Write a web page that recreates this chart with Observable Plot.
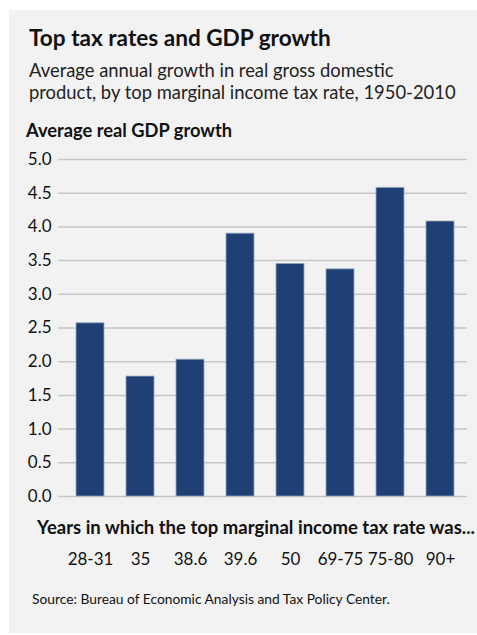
<!DOCTYPE html>
<html>
<head>
<meta charset="utf-8">
<script src="https://cdn.jsdelivr.net/npm/d3@7"></script>
<script src="https://cdn.jsdelivr.net/npm/@observablehq/plot@0.6"></script>
<style>
  html, body { margin: 0; padding: 0; background: #ffffff; }
  body { width: 477px; height: 635px; position: relative; overflow: hidden; font-family: Lato, "Open Sans", sans-serif; color: #111; }
  #panel { position: absolute; left: 9px; top: 10px; width: 468px; height: 623px; background: #f2f2f2; }
  .t { position: absolute; white-space: nowrap; line-height: 1; }
  #title { left: 29px; top: 27px; font-size: 22.6px; font-weight: 700; }
  #subtitle { left: 29px; top: 59px; font-size: 18.4px; line-height: 22px; color: #222; }
  #ylabel { left: 26px; top: 121px; font-size: 18.3px; font-weight: 700; }
  #xlabel { left: 37px; top: 518px; font-size: 18.5px; font-weight: 700; }
  #source { left: 32px; top: 592px; font-size: 13.8px; color: #111; }
  #chart { position: absolute; left: 0; top: 140px; }
</style>
</head>
<body>
<div id="panel"></div>
<div class="t" id="title">Top tax rates and GDP growth</div>
<div class="t" id="subtitle">Average annual growth in real gross domestic<br>product, by top marginal income tax rate, 1950-2010</div>
<div class="t" id="ylabel">Average real GDP growth</div>
<div class="t" id="xlabel">Years in which the top marginal income tax rate was...</div>
<div class="t" id="source">Source: Bureau of Economic Analysis and Tax Policy Center.</div>
<div id="chart"></div>
<script>
// Data
const rates = ["28-31", "35", "38.6", "39.6", "50", "69-75", "75-80", "90+"];
const growth = [2.57, 1.78, 2.03, 3.90, 3.45, 3.37, 4.58, 4.08];
const yTicks = [0, 0.5, 1, 1.5, 2, 2.5, 3, 3.5, 4, 4.5, 5];

const data = rates.map((r, i) => ({rate: r, growth: growth[i]}));

const plot = Plot.plot({
  width: 477,
  height: 440,
  marginTop: 19,
  marginBottom: 84,
  marginLeft: 58,
  marginRight: 10,
  style: {background: "transparent", fontFamily: "Lato, 'Open Sans', sans-serif", color: "#111", overflow: "visible"},
  x: {domain: rates, padding: 0.435, paddingOuter: 0.2255, insetLeft: 5},
  y: {domain: [0, 5]},
  marks: [
    Plot.gridY(yTicks, {stroke: "#c6c6c6", strokeOpacity: 1, strokeWidth: 1.5}),
    Plot.barY(data, {x: "rate", y: "growth", fill: "#1f4074", stroke: "#9aa8c0", strokeWidth: 0.8}),
    Plot.axisY(yTicks, {tickSize: 0, tickPadding: 7, fontSize: 17, tickFormat: d3.format(".1f"), label: null}),
    Plot.axisX({tickSize: 0, tickPadding: 56, fontSize: 17, label: null})
  ]
});
document.getElementById("chart").appendChild(plot);
</script>
</body>
</html>
